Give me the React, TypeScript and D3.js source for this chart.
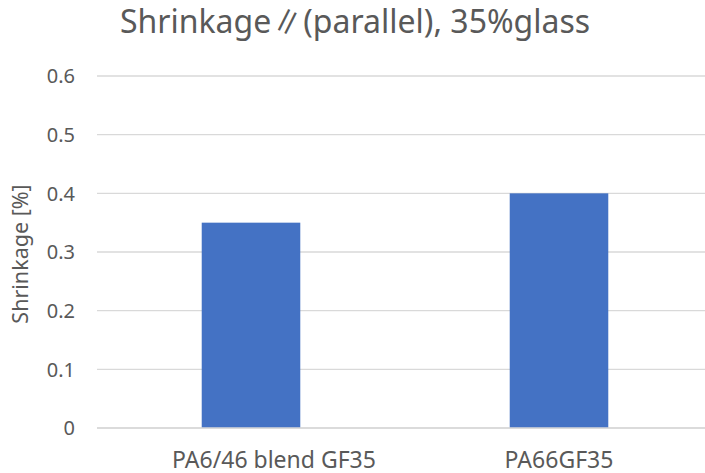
import React from "react";
import * as d3 from "d3";

const categories = ["PA6/46 blend GF35", "PA66GF35"];
const labelShift = [23, 0];
const values = [0.35, 0.4];
const yTicks = [0, 0.1, 0.2, 0.3, 0.4, 0.5, 0.6];
const titleText = "Shrinkage∥(parallel), 35%glass";
const yAxisTitle = "Shrinkage [%]";

const W = 705;
const H = 473;
const FONT = "'Noto Sans', 'Noto Sans CJK JP', sans-serif";
const TEXT = "#595959";

export default function App() {
  const x = d3.scaleBand<string>().domain(categories).range([97, 713]).paddingInner(0.68).paddingOuter(0.34);
  const y = d3.scaleLinear().domain([0, 0.6]).range([428, 76]);
  return (
    <svg width={W} height={H} style={{ position: "absolute", left: 0, top: 0, background: "#fff" }} fontFamily={FONT}>
      <rect width={W} height={H} fill="#fff" />
      <text x={355} y={33} textAnchor="middle" fontSize={32} fill={TEXT}>{titleText}</text>
      {yTicks.map((t) => (
        <g key={t}>
          <line x1={97} x2={W} y1={y(t)} y2={y(t)} stroke="#d9d9d9" strokeWidth={1.3} />
          <text x={75} y={y(t)} dy="0.36em" textAnchor="end" fontSize={20} fill={TEXT}>{d3.format("")(t)}</text>
        </g>
      ))}
      {categories.map((c, i) => (
        <rect key={c} x={x(c)} y={y(values[i])} width={x.bandwidth()} height={y(0) - y(values[i])} fill="#4472C4" />
      ))}
      <line x1={97} x2={W} y1={y(0)} y2={y(0)} stroke="#d9d9d9" strokeWidth={1.3} />
      {categories.map((c, i) => (
        <text key={c} x={(x(c) as number) + x.bandwidth() / 2 + labelShift[i]} y={468} textAnchor="middle" fontSize={23} fill={TEXT}>{c}</text>
      ))}
      <text transform={`translate(28,254) rotate(-90)`} textAnchor="middle" fontSize={21.5} fill={TEXT}>{yAxisTitle}</text>
    </svg>
  );
}
